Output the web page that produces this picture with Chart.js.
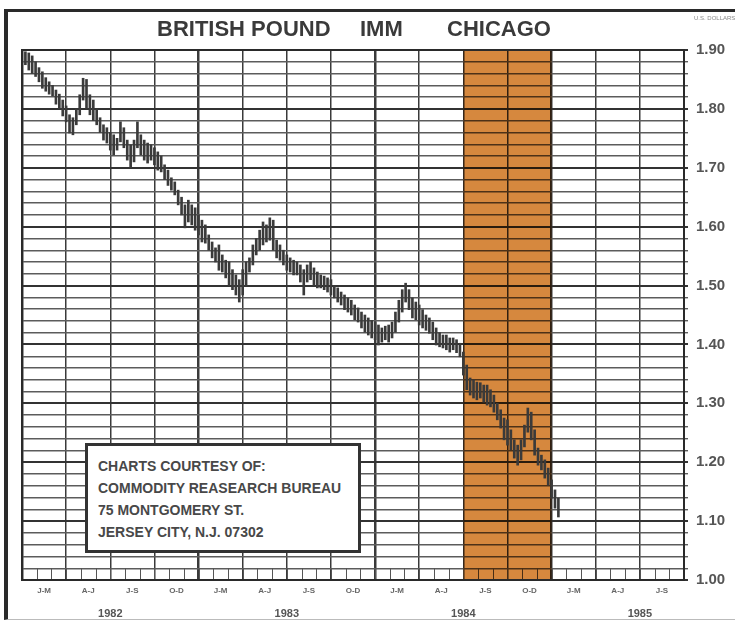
<!DOCTYPE html>
<html>
<head>
<meta charset="utf-8">
<title>British Pound IMM Chicago</title>
<script src="https://cdn.jsdelivr.net/npm/chart.js@4"></script>
<style>
  html, body { margin: 0; padding: 0; background: #fff; }
  #wrap { position: relative; width: 735px; height: 625px; overflow: hidden; }
  #frame { position: absolute; left: 4px; top: 9px; width: 731px; height: 611px; box-sizing: border-box;
           border-left: 4px solid #2a2a2a; border-top: 3px solid #2a2a2a; border-bottom: 1px solid #bbb; }
  canvas { position: absolute; left: 0; top: 0; }
  .t { position: absolute; font-family: "Liberation Sans Narrow", "Liberation Sans", sans-serif;
       font-weight: bold; color: #3a3a3a; white-space: nowrap; line-height: 1; }
  .title { font-size: 22px; top: 18px; }
  #box { position: absolute; left: 85px; top: 443px; width: 276px; height: 110px; box-sizing: border-box;
         border: 3px solid #333; background: #fff; }
  .bx { font-size: 14px; left: 98px; color: #484848; }
</style>
</head>
<body>
<div id="wrap">
  <div id="frame"></div>
  <canvas id="chart" width="735" height="625"></canvas>
  <div class="t title" style="left:157px">BRITISH POUND</div>
  <div class="t title" style="left:360px">IMM</div>
  <div class="t title" style="left:447px">CHICAGO</div>
  <div class="t" style="left:694px; top:15px; font-size:6px; color:#888; font-weight:normal;">U.S. DOLLARS</div>
  <div id="box"></div>
  <div class="t bx" style="top:459px">CHARTS COURTESY OF:</div>
  <div class="t bx" style="top:481px">COMMODITY REASEARCH BUREAU</div>
  <div class="t bx" style="top:503px">75 MONTGOMERY ST.</div>
  <div class="t bx" style="top:525px">JERSEY CITY, N.J. 07302</div>
</div>
<script>
// ====== DỮ LIỆU (giá tuần, từ tuần 1 tháng 1/1982) ======
const quarterLabels = ["J-M", "A-J", "J-S", "O-D", "J-M", "A-J", "J-S", "O-D",
                       "J-M", "A-J", "J-S", "O-D", "J-M", "A-J", "J-S"];
const yearLabels = ["1982", "1983", "1984", "1985"];
const priceLabels = ["1.90", "1.80", "1.70", "1.60", "1.50", "1.40", "1.30", "1.20", "1.10", "1.00"];

const weeklyHigh = [
  1.897, 1.895, 1.890, 1.880, 1.870, 1.863, 1.853, 1.846, 1.840, 1.832,
  1.825, 1.815, 1.805, 1.790, 1.785, 1.800, 1.824, 1.852, 1.850, 1.824,
  1.815, 1.800, 1.785, 1.773, 1.768, 1.760, 1.756, 1.750, 1.778, 1.768,
  1.747, 1.739, 1.747, 1.778, 1.756, 1.747, 1.742, 1.739, 1.734, 1.727,
  1.720, 1.705, 1.696, 1.683, 1.676, 1.662, 1.650, 1.637, 1.645, 1.637,
  1.632, 1.620, 1.611, 1.603, 1.586, 1.574, 1.564, 1.569, 1.552, 1.543,
  1.540, 1.527, 1.518, 1.510, 1.527, 1.540, 1.547, 1.569, 1.580, 1.594,
  1.608, 1.603, 1.615, 1.611, 1.577, 1.569, 1.560, 1.552, 1.547, 1.543,
  1.540, 1.535, 1.527, 1.535, 1.540, 1.530, 1.523, 1.518, 1.516, 1.513,
  1.510, 1.500, 1.496, 1.489, 1.484, 1.479, 1.475, 1.467, 1.462, 1.455,
  1.450, 1.445, 1.441, 1.438, 1.433, 1.428, 1.431, 1.433, 1.438, 1.455,
  1.475, 1.493, 1.504, 1.493, 1.479, 1.472, 1.467, 1.459, 1.450, 1.445,
  1.438, 1.428, 1.420, 1.416, 1.416, 1.411, 1.411, 1.408, 1.402, 1.387,
  1.365, 1.343, 1.340, 1.336, 1.335, 1.331, 1.331, 1.323, 1.314, 1.300,
  1.289, 1.275, 1.272, 1.255, 1.238, 1.229, 1.238, 1.263, 1.292, 1.285,
  1.255, 1.224, 1.212, 1.204, 1.190, 1.170, 1.153, 1.139
];
const weeklyLow = [
  1.875, 1.866, 1.860, 1.855, 1.846, 1.835, 1.830, 1.825, 1.822, 1.808,
  1.800, 1.788, 1.778, 1.759, 1.756, 1.773, 1.790, 1.815, 1.800, 1.790,
  1.780, 1.773, 1.760, 1.747, 1.742, 1.730, 1.722, 1.730, 1.744, 1.734,
  1.713, 1.700, 1.710, 1.734, 1.722, 1.713, 1.708, 1.713, 1.705, 1.696,
  1.693, 1.680, 1.670, 1.662, 1.654, 1.637, 1.620, 1.598, 1.608, 1.603,
  1.594, 1.586, 1.574, 1.572, 1.560, 1.547, 1.540, 1.526, 1.523, 1.513,
  1.500, 1.493, 1.484, 1.472, 1.484, 1.500, 1.523, 1.535, 1.552, 1.560,
  1.569, 1.574, 1.577, 1.560, 1.547, 1.543, 1.535, 1.526, 1.523, 1.518,
  1.518, 1.506, 1.484, 1.506, 1.510, 1.500, 1.496, 1.496, 1.493, 1.489,
  1.484, 1.479, 1.472, 1.467, 1.459, 1.455, 1.450, 1.442, 1.438, 1.428,
  1.421, 1.416, 1.411, 1.408, 1.399, 1.404, 1.408, 1.404, 1.411, 1.421,
  1.438, 1.455, 1.472, 1.459, 1.445, 1.442, 1.433, 1.428, 1.424, 1.419,
  1.408, 1.399, 1.396, 1.394, 1.391, 1.387, 1.391, 1.386, 1.379, 1.348,
  1.323, 1.314, 1.309, 1.306, 1.309, 1.302, 1.297, 1.294, 1.285, 1.272,
  1.258, 1.238, 1.229, 1.221, 1.207, 1.195, 1.204, 1.226, 1.251, 1.238,
  1.212, 1.195, 1.187, 1.173, 1.161, 1.139, 1.122, 1.107
];

// vùng tô màu cam: quý J-S và O-D 1984 (tính theo tuần)
const SHADE_WEEKS = [130, 156];
const WEEKS_PER_Q = 13;
const TOTAL_WEEKS = 195;

// ====== PLUGIN VẼ TRANG TRÍ ======
const decor = {
  id: "decor",
  beforeDatasetsDraw(chart) {
    const { ctx, chartArea: a, scales } = chart;
    const x = scales.x, y = scales.y;
    ctx.save();
    // vạch tháng ở dải dưới cùng
    ctx.strokeStyle = "#555";
    ctx.lineWidth = 1;
    const yb = y.getPixelForValue(1.0), yt = y.getPixelForValue(1.02);
    for (let m = 0; m <= 45; m++) {
      const px = Math.round(x.getPixelForValue(m * WEEKS_PER_Q / 3)) + 0.5;
      ctx.beginPath();
      ctx.moveTo(px, yt);
      ctx.lineTo(px, yb);
      ctx.stroke();
    }
    // vùng cam
    ctx.globalCompositeOperation = "multiply";
    ctx.fillStyle = "rgb(214,136,62)";
    const x0 = x.getPixelForValue(SHADE_WEEKS[0]);
    const x1 = x.getPixelForValue(SHADE_WEEKS[1]);
    ctx.fillRect(x0, a.top, x1 - x0, a.bottom - a.top);
    ctx.restore();
  },
  afterDatasetsDraw(chart) {
    const { ctx, chartArea: a } = chart;
    ctx.save();
    ctx.strokeStyle = "#2a2a2a";
    ctx.lineWidth = 2;
    ctx.strokeRect(a.left, a.top, a.right - a.left, a.bottom - a.top);
    ctx.restore();
  }
};

// ====== VẼ BIỂU ĐỒ ======
function renderChart() {
  const bars = weeklyHigh.map((h, i) => ({ x: i + 1, y: [weeklyLow[i], h] }));
  const font = "'Liberation Sans Narrow', 'Liberation Sans', sans-serif";

  new Chart(document.getElementById("chart").getContext("2d"), {
    type: "bar",
    data: {
      datasets: [{
        data: bars,
        backgroundColor: "#3a3a3a",
        borderWidth: 0,
        barThickness: 2,
        grouped: false
      }]
    },
    options: {
      responsive: false,
      animation: false,
      layout: { padding: { top: 50, left: 22, right: 0, bottom: 0 } },
      plugins: { legend: { display: false }, tooltip: { enabled: false } },
      scales: {
        x: {
          type: "linear", min: 0, max: TOTAL_WEEKS, offset: false,
          afterBuildTicks: (s) => {
            const t = [];
            for (let w = 0; w <= TOTAL_WEEKS; w += WEEKS_PER_Q) t.push({ value: w });
            s.ticks = t;
          },
          afterFit: (s) => { s.height = 0; },
          ticks: { display: false },
          border: { display: false },
          grid: {
            offset: false,
            drawTicks: false,
            color: "#3a3a3a",
            lineWidth: (c) => (c.tick && c.tick.value % 52 === 0 ? 2.5 : 1.5)
          }
        },
        x2: {
          type: "linear", position: "bottom", min: 0, max: TOTAL_WEEKS, offset: false,
          afterBuildTicks: (s) => {
            s.ticks = quarterLabels.map((_, i) => ({ value: i * WEEKS_PER_Q + WEEKS_PER_Q / 2 }));
          },
          afterFit: (s) => { s.height = 22; },
          grid: { display: false, drawTicks: false, offset: false },
          border: { display: false },
          ticks: {
            autoSkip: false, maxRotation: 0, padding: 6,
            color: "#666", font: { family: font, size: 8, weight: "bold" },
            callback: (v, i) => quarterLabels[i]
          }
        },
        x3: {
          type: "linear", position: "bottom", min: 0, max: TOTAL_WEEKS, offset: false,
          afterBuildTicks: (s) => {
            s.ticks = yearLabels.map((_, i) => ({ value: i * 52 + 26 }));
          },
          afterFit: (s) => { s.height = 23; },
          grid: { display: false, drawTicks: false, offset: false },
          border: { display: false },
          ticks: {
            autoSkip: false, maxRotation: 0, padding: 5,
            color: "#555", font: { family: font, size: 11, weight: "bold" },
            callback: (v, i) => yearLabels[i]
          }
        },
        y: {
          position: "right", min: 1.0, max: 1.9,
          afterBuildTicks: (s) => {
            const t = [];
            for (let k = 100; k <= 190; k += 2) t.push({ value: k / 100 });
            s.ticks = t;
          },
          afterFit: (s) => { s.width = 51; },
          border: { display: true, color: "#2a2a2a", width: 2 },
          grid: {
            tickLength: 4,
            color: (c) => (c.tick && Math.round(c.tick.value * 100) % 10 === 0 ? "#333" : "#5c5c5c"),
            lineWidth: (c) => (c.tick && Math.round(c.tick.value * 100) % 10 === 0 ? 2 : 1.4)
          },
          ticks: {
            autoSkip: false, padding: 8,
            color: "#555", font: { family: "'Liberation Sans', sans-serif", size: 15, weight: "bold" },
            callback: (v) => {
              const s = Number(v).toFixed(2);
              return priceLabels.includes(s) ? s : "";
            }
          }
        }
      }
    },
    plugins: [decor]
  });
}

document.addEventListener("DOMContentLoaded", renderChart);
</script>
</body>
</html>
